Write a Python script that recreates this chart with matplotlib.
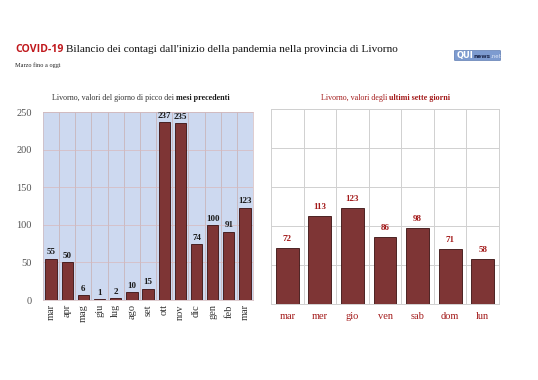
import matplotlib.pyplot as plt
from matplotlib.patches import FancyBboxPatch

# data
mesi = ['mar', 'apr', 'mag', 'giu', 'lug', 'ago', 'set', 'ott', 'nov', 'dic', 'gen', 'feb', 'mar']
picchi = [55, 50, 6, 1, 2, 10, 15, 237, 235, 74, 100, 91, 123]
giorni = ['mar', 'mer', 'gio', 'ven', 'sab', 'dom', 'lun']
ultimi = [72, 113, 123, 86, 98, 71, 58]
yticks = [0, 50, 100, 150, 200, 250]

W, H = 538, 380
bar_col = '#7e3535'
edge_col = '#3a1010'
dark_red = '#a31a1a'
serif = 'Liberation Serif'

fig = plt.figure(figsize=(W / 100, H / 100), dpi=100)
fig.patch.set_facecolor('white')


def box(x0, y0, x1, y1):
    return [x0 / W, 1 - y1 / H, (x1 - x0) / W, (y1 - y0) / H]


# left chart
ax1 = fig.add_axes(box(43, 112, 253, 300))
ax1.set_facecolor('#cdd9f0')
x1 = range(len(mesi))
ax1.bar(x1, picchi, width=0.7, color=bar_col, edgecolor=edge_col, linewidth=0.6, zorder=3)
for i, v in enumerate(picchi):
    ax1.text(i, v + 3, str(v), ha='center', va='bottom', fontsize=6.5,
             fontweight='bold', family=serif, color='#1a1a1a', zorder=4)
ax1.set_xlim(-0.5, len(mesi) - 0.5)
ax1.set_ylim(0, 250)
ax1.set_yticks(yticks)
ax1.set_yticklabels([str(t) for t in yticks], family=serif, fontsize=7.5, color='#555555')
ax1.set_xticks(list(x1))
ax1.set_xticklabels(mesi, rotation=90, family=serif, fontsize=7.5, color='#333333')
ax1.set_xticks([i + 0.5 for i in range(len(mesi) - 1)], minor=True)
ax1.tick_params(axis='both', which='both', length=0, pad=3)
ax1.tick_params(axis='y', pad=8)
ax1.grid(axis='y', color='#d8b8bc', linewidth=0.5, zorder=1)
ax1.grid(axis='x', which='minor', color='#c8aeb0', linewidth=0.5, zorder=1)
for s in ax1.spines.values():
    s.set_color('#d0b8bc')
    s.set_linewidth(0.5)

# right chart
ax2 = fig.add_axes(box(271, 109, 499, 304))
ax2.set_facecolor('white')
x2 = range(len(giorni))
ax2.bar(x2, ultimi, width=0.7, color=bar_col, edgecolor=edge_col, linewidth=0.6, zorder=3)
for i, v in enumerate(ultimi):
    ax2.text(i, v + 6, str(v), ha='center', va='bottom', fontsize=6.5,
             fontweight='bold', family=serif, color=dark_red, zorder=4)
ax2.set_xlim(-0.5, len(giorni) - 0.5)
ax2.set_ylim(0, 250)
ax2.set_yticks(yticks)
ax2.set_yticklabels([])
ax2.set_xticks(list(x2))
ax2.set_xticklabels(giorni, family=serif, fontsize=7.5, color=dark_red)
ax2.set_xticks([i + 0.5 for i in range(len(giorni) - 1)], minor=True)
ax2.tick_params(axis='both', which='both', length=0, pad=6)
ax2.grid(axis='y', color='#d0d0d0', linewidth=0.7, zorder=1)
ax2.grid(axis='x', which='minor', color='#d0d0d0', linewidth=0.7, zorder=1)
for s in ax2.spines.values():
    s.set_color('#d0d0d0')
    s.set_linewidth(0.7)

# subplot titles
t = fig.text(52 / W, 1 - 98 / H, 'Livorno, valori del giorno di picco dei ', family=serif,
             fontsize=5.8, color='#333333', va='center')
fig.canvas.draw()
ren = fig.canvas.get_renderer()
bb = t.get_window_extent(ren)
fig.text(bb.x1 / W, 1 - 98 / H, 'mesi precedenti', family=serif, fontsize=5.8,
         fontweight='bold', color='#1a1a1a', va='center')

t = fig.text(321 / W, 1 - 98 / H, 'Livorno, valori degli ', family=serif,
             fontsize=5.8, color=dark_red, va='center')
bb = t.get_window_extent(ren)
fig.text(bb.x1 / W, 1 - 98 / H, 'ultimi sette giorni', family=serif, fontsize=5.8,
         fontweight='bold', color=dark_red, va='center')

# main title
t = fig.text(15 / W, 1 - 50 / H, 'COVID-19', family='Open Sans', fontsize=7.6,
             fontweight='bold', color='#c0181c', va='center')
bb = t.get_window_extent(ren)
fig.text((bb.x1 + 3) / W, 1 - 50 / H,
         "Bilancio dei contagi dall'inizio della pandemia nella provincia di Livorno",
         family=serif, fontsize=8.1, color='#111111', va='center')
fig.text(15 / W, 1 - 65 / H, 'Marzo fino a oggi', family=serif, fontsize=4.5,
         color='#222222', va='center')

# logo
logo = FancyBboxPatch((455 / W, 1 - 60 / H), 45 / W, 9 / H,
                      boxstyle='round,pad=0.001', transform=fig.transFigure,
                      facecolor='#7d9bd0', edgecolor='#5a78b0', linewidth=0.5)
fig.patches.append(logo)
t = fig.text(457 / W, 1 - 55.5 / H, 'QUI', family='DejaVu Sans', fontsize=6,
             fontweight='bold', color='white', va='center')
bb = t.get_window_extent(ren)
t = fig.text(bb.x1 / W, 1 - 56 / H, 'news', family='DejaVu Sans', fontsize=4.2,
             fontweight='bold', color='#1e2a50', va='center')
bb = t.get_window_extent(ren)
fig.text(bb.x1 / W, 1 - 56 / H, '.net', family='DejaVu Sans', fontsize=4,
         color='#dfe8f8', va='center')

fig.savefig('out.png', dpi=100)
